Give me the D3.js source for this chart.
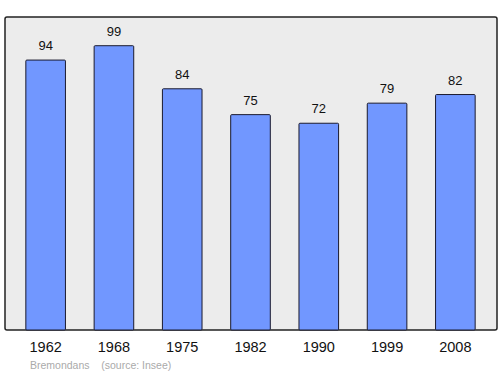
<!DOCTYPE html>
<html>
<head>
<meta charset="utf-8">
<script src="https://cdn.jsdelivr.net/npm/d3@7"></script>
<style>
  body { margin: 0; background: #fff; }
  text { font-family: "Liberation Sans", Arial, sans-serif; }
</style>
</head>
<body>
<div id="chart"></div>
<script>
const years = ['1962', '1968', '1975', '1982', '1990', '1999', '2008'];
const population = [94, 99, 84, 75, 72, 79, 82];
const footnote = 'Bremondans    (source: Insee)';

const width = 500;
const height = 374;
const frame = { left: 5, top: 17, right: 497, bottom: 330 };

const svg = d3.select('#chart')
  .append('svg')
  .attr('width', width)
  .attr('height', height);

const x = d3.scaleBand()
  .domain(years)
  .range([11.5, 489.5])
  .paddingInner(0.42)
  .paddingOuter(0.21);

const y = d3.scaleLinear()
  .domain([0, 109])
  .range([frame.bottom, frame.top]);

// Plot background
svg.append('rect')
  .attr('x', frame.left)
  .attr('y', frame.top)
  .attr('width', frame.right - frame.left)
  .attr('height', frame.bottom - frame.top)
  .attr('rx', 2)
  .attr('fill', '#ececec')
  .attr('stroke', '#222')
  .attr('stroke-width', 1.5);

// Bars
svg.selectAll('rect.bar')
  .data(years)
  .join('rect')
  .attr('class', 'bar')
  .attr('x', d => x(d))
  .attr('y', (d, i) => y(population[i]))
  .attr('width', x.bandwidth())
  .attr('height', (d, i) => y(0) - y(population[i]))
  .attr('rx', 1)
  .attr('fill', '#7197ff')
  .attr('stroke', '#1a1a2e')
  .attr('stroke-width', 1);

// Value labels
svg.selectAll('text.value')
  .data(years)
  .join('text')
  .attr('class', 'value')
  .attr('x', d => x(d) + x.bandwidth() / 2)
  .attr('y', (d, i) => y(population[i]) - 10)
  .attr('text-anchor', 'middle')
  .style('font-size', '13px')
  .attr('fill', '#111')
  .text((d, i) => population[i]);

// X axis labels
const xAxis = svg.append('g')
  .attr('transform', `translate(0,${frame.bottom})`)
  .call(d3.axisBottom(x).tickSize(0).tickPadding(12));
xAxis.select('.domain').remove();
xAxis.selectAll('text')
  .style('font-size', '14.5px')
  .style('font-family', '"Liberation Sans", Arial, sans-serif')
  .attr('fill', '#111');

// Footnote
svg.append('text')
  .attr('x', 30)
  .attr('y', 369)
  .style('font-size', '10.5px')
  .style('white-space', 'pre')
  .attr('xml:space', 'preserve')
  .attr('fill', '#aaa')
  .text(footnote);
</script>
</body>
</html>
